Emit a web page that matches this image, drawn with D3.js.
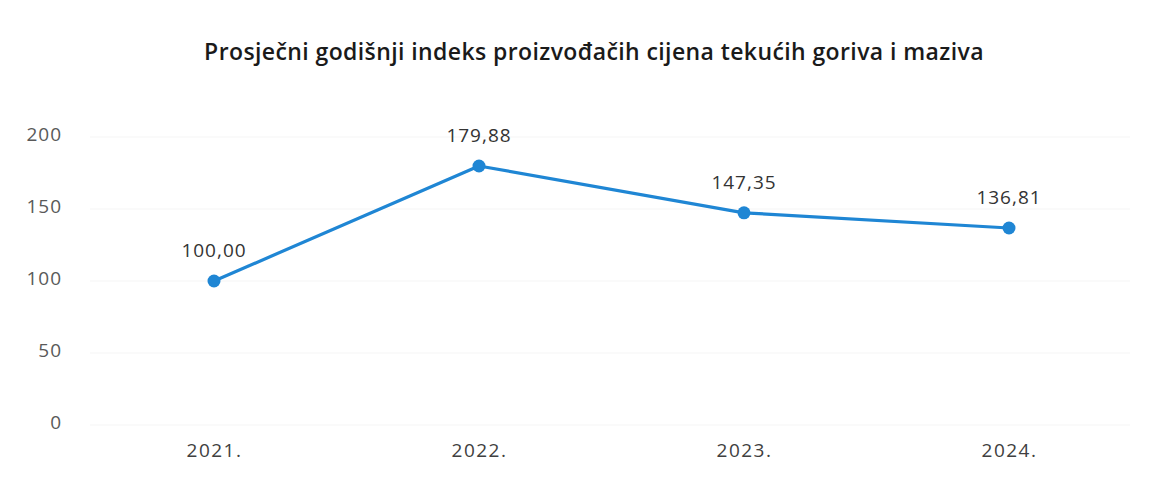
<!DOCTYPE html>
<html>
<head>
<meta charset="utf-8">
<script src="https://cdn.jsdelivr.net/npm/d3@7.9.0/dist/d3.min.js"></script>
<style>
  body { margin: 0; background: #fff; }
  text { font-family: "Open Sans", "Noto Sans", sans-serif; }
</style>
</head>
<body>
<svg id="chart" width="1157" height="478"></svg>
<script>
// data
const years = ['2021.', '2022.', '2023.', '2024.'];
const values = [100.00, 179.88, 147.35, 136.81];
const yTicks = [0, 50, 100, 150, 200];
const titleText = 'Prosječni godišnji indeks proizvođačih cijena tekućih goriva i maziva';

const svg = d3.select('#chart');
const fmt = (v) => v.toFixed(2).replace('.', ',');

const x = d3.scalePoint()
  .domain(years)
  .range([214, 1009]);

const y = d3.scaleLinear()
  .domain([0, 200])
  .range([425, 137]);

// faint gridlines
svg.append('g')
  .selectAll('line')
  .data(yTicks)
  .join('line')
  .attr('x1', 90).attr('x2', 1130)
  .attr('y1', (d) => y(d)).attr('y2', (d) => y(d))
  .attr('stroke', '#f5f5f5')
  .attr('stroke-width', 1);

// title
svg.append('text')
  .attr('x', 594)
  .attr('y', 60)
  .attr('text-anchor', 'middle')
  .attr('font-size', 23)
  .attr('font-weight', 600)
  .attr('letter-spacing', 0.4)
  .attr('fill', '#1a1a1a')
  .text(titleText);

// y axis labels
const yAxis = d3.axisLeft(y).tickValues(yTicks).tickSize(0).tickPadding(0);
const yg = svg.append('g').attr('transform', 'translate(62,-3)').call(yAxis);
yg.select('.domain').remove();
yg.selectAll('text').attr('font-size', 19).attr('fill', '#595959')
  .attr('letter-spacing', 1)
  .attr('font-family', '"Open Sans", "Noto Sans", sans-serif');

// x axis labels
const xAxis = d3.axisBottom(x).tickSize(0).tickPadding(0);
const xg = svg.append('g').attr('transform', 'translate(0,443)').call(xAxis);
xg.select('.domain').remove();
xg.selectAll('text').attr('font-size', 19).attr('fill', '#404040')
  .attr('letter-spacing', 1.5)
  .attr('font-family', '"Open Sans", "Noto Sans", sans-serif');

// line
const line = d3.line()
  .x((d, i) => x(years[i]))
  .y((d) => y(d));

svg.append('path')
  .datum(values)
  .attr('d', line)
  .attr('fill', 'none')
  .attr('stroke', '#1f86d4')
  .attr('stroke-width', 3.2)
  .attr('stroke-linejoin', 'round');

svg.append('g')
  .selectAll('circle')
  .data(values)
  .join('circle')
  .attr('cx', (d, i) => x(years[i]))
  .attr('cy', (d) => y(d))
  .attr('r', 6.5)
  .attr('fill', '#1f86d4');

// data labels
svg.append('g')
  .selectAll('text')
  .data(values)
  .join('text')
  .attr('x', (d, i) => x(years[i]))
  .attr('y', (d) => y(d) - 24)
  .attr('text-anchor', 'middle')
  .attr('font-size', 19)
  .attr('letter-spacing', 1)
  .attr('fill', '#333')
  .text((d) => fmt(d));
</script>
</body>
</html>
